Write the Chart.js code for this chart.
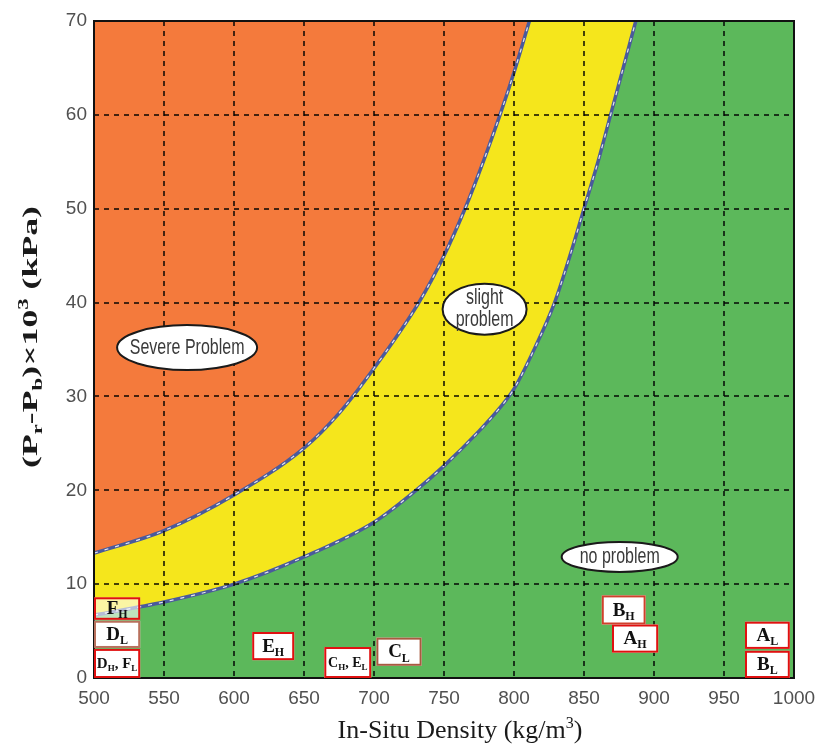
<!DOCTYPE html>
<html>
<head>
<meta charset="utf-8">
<script src="https://cdn.jsdelivr.net/npm/chart.js@4.4.0/dist/chart.umd.min.js"></script>
<style>
  html, body { margin: 0; padding: 0; background: #fff; }
</style>
</head>
<body>
<canvas id="zoneChart" width="819" height="753"></canvas>
<script>
// severe / slight boundary  (density kg/m3 -> kPa)
const upperX = [500, 550, 600, 650, 675, 700, 732, 750, 765, 778, 790, 801, 811, 829];
const upperY = [13.3, 15.7, 19.5, 24.5, 28.2, 33, 40, 45, 50, 55, 60, 65, 70, 79];

// slight / no problem boundary
const lowerX = [500, 550, 600, 650, 700, 730, 750, 775, 790, 800, 815, 829, 840, 850, 860, 869, 878, 887, 905, 1000];
const lowerY = [6.7, 8.1, 10.0, 12.9, 16.6, 20, 22.6, 26.3, 28.8, 30.8, 35.2, 40, 45, 50, 55, 60, 65, 70, 80, 80];

const xTicks = [500, 550, 600, 650, 700, 750, 800, 850, 900, 950, 1000];
const yTicks = [0, 10, 20, 30, 40, 50, 60, 70];

// zone labels (centre in data units)
const zoneNames = ['Severe Problem', 'slight\nproblem', 'no problem'];
const zoneX = [566.5, 779, 875.5];
const zoneY = [35.2, 39.3, 12.9];

// sample boxes (data units)
const caseNames = ['F_H', 'D_L', 'D_H, F_L', 'E_H', 'C_H, E_L', 'C_L', 'B_H', 'A_H', 'A_L', 'B_L'];
const caseX1 = [500, 500, 500, 613, 664.5, 701.7, 862.7, 870, 965, 965];
const caseX2 = [533, 533, 533, 643, 698, 734, 894, 903, 997, 997];
const caseYTop = [8.6, 6.1, 3.1, 4.9, 3.3, 4.3, 8.8, 5.7, 6.0, 2.9];
const caseYBot = [6.2, 3.2, 0, 1.9, 0, 1.3, 5.7, 2.7, 3.1, 0];

const ORANGE = '#F47A3C';
const YELLOW = '#F5E61C';
const GREEN = '#5CB85B';
const CURVE = '#4a5a9c';
const SANS = "'Liberation Sans', Arial, sans-serif";
const SERIF = "'Liberation Serif', 'Times New Roman', serif";

const zoneRx = [70, 42, 58];
const zoneRy = [22.5, 25.5, 15];
const caseBorder = ['#e01010', '#b8705c', '#e01010', '#e01010', '#e01010', '#a85a40', '#d0402c', '#e01010', '#e01010', '#e01010'];
const caseFill = ['rgba(255,255,255,0.6)', '#fff', '#fff', '#fff', '#fff', '#fff', '#fff', '#fff', '#fff', '#fff'];

const toPts = (xs, ys) => xs.map((x, i) => ({ x: x, y: ys[i] }));

// "D_H" -> D + subscript H, "10^3" -> 10 + superscript 3
function parseRuns(s) {
  const runs = [];
  let buf = '';
  for (let i = 0; i < s.length; i++) {
    if (s[i] === '_' || s[i] === '^') {
      if (buf) runs.push({ t: buf, k: 0 });
      buf = '';
      runs.push({ t: s[i + 1], k: s[i] === '_' ? 1 : 2 });
      i++;
    } else {
      buf += s[i];
    }
  }
  if (buf) runs.push({ t: buf, k: 0 });
  return runs;
}

function runFont(r, fs, weight, family) {
  const size = r.k ? Math.round(fs * 0.62) : fs;
  return weight + ' ' + size + 'px ' + family;
}

function measureRuns(ctx, runs, fs, weight, family) {
  let w = 0;
  runs.forEach(r => { ctx.font = runFont(r, fs, weight, family); w += ctx.measureText(r.t).width; });
  return w;
}

// draws centred on x, with baseline at y
function drawRuns(ctx, runs, x, y, fs, weight, family) {
  const w = measureRuns(ctx, runs, fs, weight, family);
  let cx = x - w / 2;
  ctx.textAlign = 'left';
  ctx.textBaseline = 'alphabetic';
  runs.forEach(r => {
    ctx.font = runFont(r, fs, weight, family);
    const dy = r.k === 1 ? fs * 0.22 : (r.k === 2 ? -fs * 0.4 : 0);
    ctx.fillText(r.t, cx, y + dy);
    cx += ctx.measureText(r.t).width;
  });
}

const zonePlugin = {
  id: 'zones',
  beforeDatasetsDraw(chart) {
    const { ctx, chartArea: a } = chart;
    ctx.save();
    ctx.fillStyle = YELLOW;
    ctx.fillRect(a.left, a.top, a.right - a.left, a.bottom - a.top);
    ctx.restore();
  },
  afterDraw(chart) {
    const { ctx, chartArea: a, scales } = chart;
    const xs = scales.x, ys = scales.y;
    ctx.save();

    // frame
    ctx.strokeStyle = '#111';
    ctx.lineWidth = 2;
    ctx.strokeRect(a.left, a.top, a.right - a.left, a.bottom - a.top);

    // zone ellipses
    zoneNames.forEach((name, i) => {
      const cx = xs.getPixelForValue(zoneX[i]);
      const cy = ys.getPixelForValue(zoneY[i]);
      ctx.beginPath();
      ctx.ellipse(cx, cy, zoneRx[i], zoneRy[i], 0, 0, Math.PI * 2);
      ctx.fillStyle = '#fff';
      ctx.fill();
      ctx.strokeStyle = '#1a1a1a';
      ctx.lineWidth = 2;
      ctx.stroke();
      ctx.save();
      ctx.translate(cx, cy);
      ctx.scale(0.8, 1.1);
      ctx.fillStyle = '#3a3a3a';
      ctx.font = '20px ' + SANS;
      ctx.textAlign = 'center';
      ctx.textBaseline = 'middle';
      const lines = name.split('\n');
      lines.forEach((ln, j) => {
        ctx.fillText(ln, 0, (j - (lines.length - 1) / 2) * 20);
      });
      ctx.restore();
    });

    // sample boxes
    caseNames.forEach((name, i) => {
      const x1 = xs.getPixelForValue(caseX1[i]);
      const x2 = xs.getPixelForValue(caseX2[i]);
      const y1 = ys.getPixelForValue(caseYTop[i]);
      const y2 = ys.getPixelForValue(caseYBot[i]);
      ctx.fillStyle = caseFill[i];
      ctx.fillRect(x1, y1, x2 - x1, y2 - y1);
      ctx.strokeStyle = caseBorder[i];
      ctx.lineWidth = 2;
      ctx.strokeRect(x1 + 1, y1 + 1, x2 - x1 - 2, y2 - y1 - 2);
      const runs = parseRuns(name);
      let fs = 19;
      const w = measureRuns(ctx, runs, fs, 'bold', SERIF);
      if (w > x2 - x1 - 5) fs = Math.floor(fs * (x2 - x1 - 5) / w);
      ctx.fillStyle = '#111';
      drawRuns(ctx, runs, (x1 + x2) / 2, (y1 + y2) / 2 + fs * 0.3, fs, 'bold', SERIF);
    });

    // axis titles
    ctx.fillStyle = '#1a1a1a';
    drawRuns(ctx, parseRuns('In-Situ Density (kg/m^3)'), (a.left + a.right) / 2 + 16, 738, 26, 'normal', SERIF);

    const yRuns = parseRuns('(P_r-P_b)×10^3 (kPa)');
    const yw = measureRuns(ctx, yRuns, 22, 'bold', SERIF);
    ctx.translate(37, 337);
    ctx.rotate(-Math.PI / 2);
    ctx.scale(262 / yw, 1);
    drawRuns(ctx, yRuns, 0, 0, 22, 'bold', SERIF);
    ctx.restore();
  }
};

const gridOpts = { color: 'rgba(0,0,0,0.72)', lineWidth: 2, drawTicks: false, z: 1 };

const ctx = document.getElementById('zoneChart');
new Chart(ctx, {
  type: 'line',
  data: {
    datasets: [
      {
        data: toPts(upperX, upperY),
        borderColor: 'rgba(255,255,255,0.85)',
        borderWidth: 1.2,
        borderDash: [4, 7],
        fill: false
      },
      {
        data: toPts(lowerX, lowerY),
        borderColor: 'rgba(255,255,255,0.85)',
        borderWidth: 1.2,
        borderDash: [4, 7],
        fill: false
      },
      {
        data: toPts(upperX, upperY),
        borderColor: CURVE,
        borderWidth: 3.5,
        backgroundColor: ORANGE,
        fill: 'end'
      },
      {
        data: toPts(lowerX, lowerY),
        borderColor: CURVE,
        borderWidth: 3.5,
        backgroundColor: GREEN,
        fill: 'start'
      }
    ]
  },
  options: {
    responsive: false,
    animation: false,
    parsing: false,
    elements: {
      point: { radius: 0 },
      line: { cubicInterpolationMode: 'monotone' }
    },
    layout: { padding: { left: 0, right: 25, top: 21, bottom: 0 } },
    scales: {
      x: {
        type: 'linear',
        min: 500,
        max: 1000,
        afterBuildTicks: (s) => { s.ticks = xTicks.map(v => ({ value: v })); },
        afterFit: (s) => { s.height = 75; s.paddingLeft = 0; s.paddingRight = 0; },
        grid: gridOpts,
        border: { display: false, dash: [5, 5] },
        ticks: {
          color: '#505050', padding: 9, maxRotation: 0,
          font: { family: SANS, size: 19 },
          callback: (v) => String(v)
        }
      },
      y: {
        type: 'linear',
        min: 0,
        max: 70,
        afterBuildTicks: (s) => { s.ticks = yTicks.map(v => ({ value: v })); },
        afterFit: (s) => { s.width = 94; s.paddingTop = 0; s.paddingBottom = 0; },
        grid: gridOpts,
        border: { display: false, dash: [5, 5] },
        ticks: {
          color: '#505050', padding: 7,
          font: { family: SANS, size: 19 },
          callback: (v) => String(v)
        }
      }
    },
    plugins: {
      legend: { display: false },
      tooltip: { enabled: false }
    }
  },
  plugins: [zonePlugin]
});
</script>
</body>
</html>
